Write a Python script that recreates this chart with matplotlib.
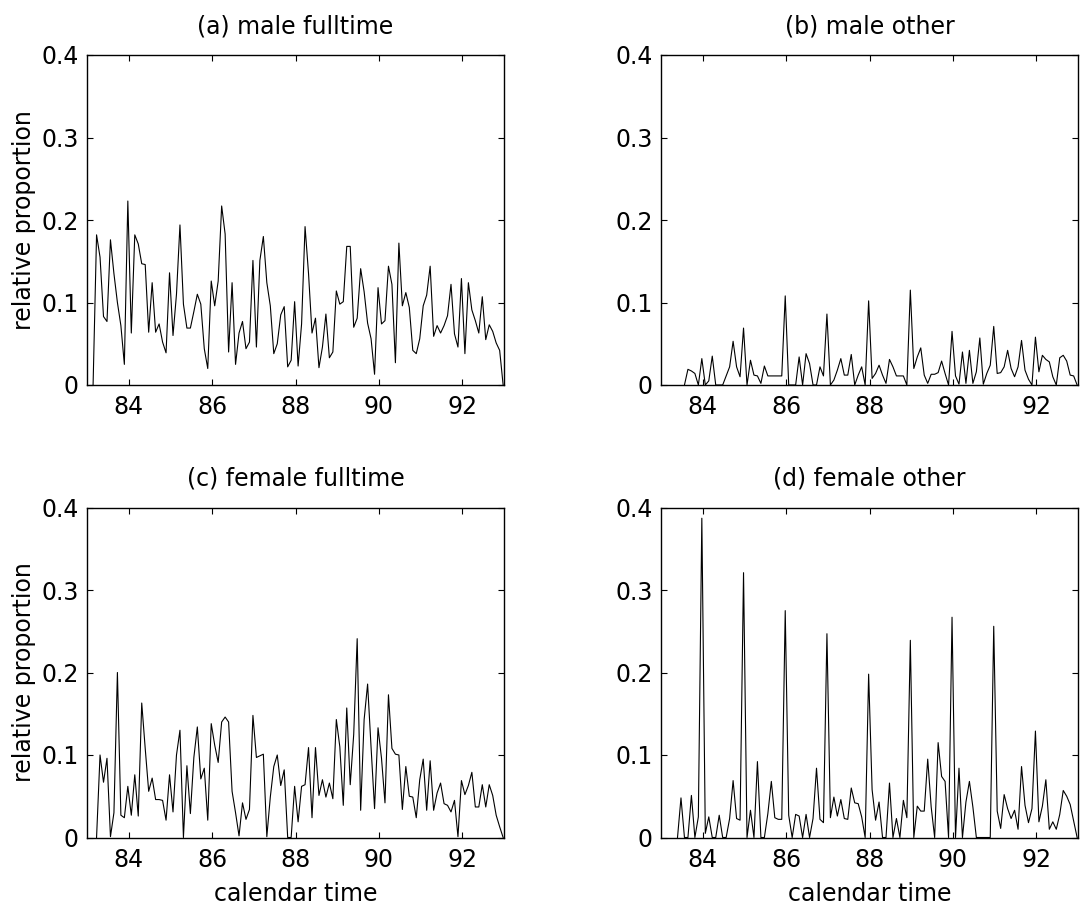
import numpy as np
import matplotlib
matplotlib.use("Agg")
import matplotlib.pyplot as plt

plt.rcParams['font.family'] = ['DejaVu Sans']

# monthly values; first month index of each series
male_full_start = 1
male_full = [0, 0.182, 0.155, 0.083, 0.077, 0.176, 0.135, 0.100, 0.072, 0.025,
             0.223, 0.063, 0.182, 0.171, 0.147, 0.146, 0.064, 0.124, 0.064, 0.074,
             0.052, 0.039, 0.136, 0.060, 0.110, 0.194, 0.098, 0.069, 0.069, 0.089,
             0.110, 0.098, 0.044, 0.020, 0.126, 0.096, 0.126, 0.217, 0.183, 0.040,
             0.124, 0.025, 0.063, 0.077, 0.044, 0.052, 0.151, 0.046, 0.151, 0.180,
             0.124, 0.096, 0.038, 0.050, 0.085, 0.095, 0.022, 0.030, 0.101, 0.023,
             0.074, 0.192, 0.135, 0.063, 0.081, 0.021, 0.046, 0.086, 0.033, 0.040,
             0.114, 0.098, 0.101, 0.168, 0.168, 0.070, 0.081, 0.141, 0.113, 0.075,
             0.056, 0.013, 0.118, 0.074, 0.078, 0.144, 0.122, 0.027, 0.172, 0.096,
             0.112, 0.094, 0.042, 0.038, 0.056, 0.096, 0.109, 0.144, 0.059, 0.072,
             0.063, 0.072, 0.084, 0.122, 0.062, 0.046, 0.129, 0.038, 0.124, 0.091,
             0.078, 0.063, 0.107, 0.055, 0.073, 0.065, 0.051, 0.042, 0]

male_other_start = 6
male_other = [0, 0.019, 0.017, 0.014, 0, 0.032, 0, 0.005, 0.035, 0,
              0, 0, 0.011, 0.022, 0.053, 0.022, 0.010, 0.069, 0, 0.030,
              0.012, 0.011, 0.002, 0.023, 0.011, 0.011, 0.011, 0.011, 0.011, 0.108,
              0, 0, 0, 0.034, 0, 0.038, 0.026, 0, 0, 0.022,
              0.011, 0.086, 0, 0.006, 0.018, 0.032, 0.012, 0.012, 0.037, 0,
              0.012, 0.022, 0, 0.102, 0.008, 0.014, 0.024, 0.012, 0.002, 0.031,
              0.022, 0.011, 0.011, 0.011, 0, 0.115, 0.020, 0.034, 0.045, 0.012,
              0.002, 0.013, 0.013, 0.015, 0.029, 0.014, 0, 0.065, 0.011, 0.001,
              0.040, 0.002, 0.042, 0.002, 0.016, 0.057, 0.001, 0.014, 0.024, 0.071,
              0.014, 0.015, 0.022, 0.042, 0.020, 0.010, 0.022, 0.054, 0.018, 0.007,
              0, 0.058, 0.016, 0.036, 0.031, 0.028, 0.010, 0, 0.033, 0.036,
              0.029, 0.012, 0.011, 0]

female_full_start = 2
female_full = [0, 0.100, 0.067, 0.096, 0.001, 0.030, 0.200, 0.027, 0.024, 0.062,
               0.027, 0.076, 0.026, 0.163, 0.108, 0.056, 0.072, 0.046, 0.046, 0.045,
               0.021, 0.076, 0.031, 0.100, 0.130, 0, 0.087, 0.029, 0.097, 0.134,
               0.071, 0.084, 0.021, 0.138, 0.112, 0.091, 0.140, 0.146, 0.140, 0.056,
               0.030, 0.002, 0.042, 0.022, 0.034, 0.148, 0.097, 0.099, 0.101, 0.001,
               0.049, 0.086, 0.100, 0.063, 0.082, 0, 0, 0.062, 0.019, 0.062,
               0.064, 0.109, 0.024, 0.109, 0.051, 0.070, 0.049, 0.066, 0.047, 0.143,
               0.110, 0.039, 0.157, 0.064, 0.125, 0.241, 0.033, 0.143, 0.186, 0.109,
               0.035, 0.133, 0.096, 0.042, 0.173, 0.108, 0.101, 0.100, 0.034, 0.086,
               0.050, 0.049, 0.024, 0.070, 0.095, 0.033, 0.093, 0.033, 0.054, 0.066,
               0.041, 0.039, 0.031, 0.045, 0.001, 0.069, 0.052, 0.063, 0.079, 0.037,
               0.037, 0.064, 0.037, 0.064, 0.051, 0.027, 0.013, 0]

female_other_start = 4
female_other = [0, 0.048, 0, 0, 0.051, 0, 0.025, 0.387, 0.005, 0.025,
                0, 0, 0.027, 0, 0, 0.023, 0.069, 0.023, 0.021, 0.321,
                0, 0.033, 0, 0.092, 0, 0, 0.029, 0.068, 0.024, 0.022,
                0.022, 0.275, 0.027, 0, 0.028, 0.026, 0, 0.028, 0, 0.023,
                0.084, 0.022, 0.018, 0.247, 0.024, 0.049, 0.026, 0.046, 0.023, 0.022,
                0.060, 0.042, 0.041, 0.025, 0, 0.198, 0.058, 0.021, 0.043, 0,
                0, 0.066, 0, 0.023, 0, 0.045, 0.024, 0.239, 0, 0.038,
                0.032, 0.032, 0.095, 0.037, 0, 0.115, 0.074, 0.068, 0, 0.267,
                0, 0.084, 0, 0.043, 0.068, 0.037, 0, 0, 0, 0,
                0, 0.256, 0.032, 0.011, 0.052, 0.035, 0.023, 0.033, 0.010, 0.086,
                0.039, 0.018, 0.035, 0.129, 0.019, 0.038, 0.070, 0.010, 0.019, 0.010,
                0.028, 0.057, 0.050, 0.040, 0.020, 0]

titles = ['(a) male fulltime', '(b) male other',
          '(c) female fulltime', '(d) female other']
xticks = [84, 86, 88, 90, 92]
yticks = [0, 0.1, 0.2, 0.3, 0.4]
ytick_labels = ['0', '0.1', '0.2', '0.3', '0.4']

series = [(male_full_start, male_full), (male_other_start, male_other),
          (female_full_start, female_full), (female_other_start, female_other)]

fig = plt.figure(figsize=(10.8, 9.08), dpi=100)
fs = 17
W, H = 1080.0, 908.0
# axes boxes in pixels: left, top, right, bottom
boxes = [(87, 55, 504, 385), (661, 55, 1078, 385),
         (87, 507.5, 504, 837.5), (661, 507.5, 1078, 837.5)]

for i, (box, (start, vals)) in enumerate(zip(boxes, series)):
    l, t, r, b = box
    ax = fig.add_axes([l / W, 1 - b / H, (r - l) / W, (b - t) / H])
    months = np.arange(start, start + len(vals))
    x = 83 + (months + 0.75) / 12.0
    ax.plot(x, vals, color='black', lw=0.8)
    ax.set_xlim(83, 93)
    ax.set_ylim(0, 0.4)
    ax.set_xticks(xticks)
    ax.set_yticks(yticks)
    ax.set_yticklabels(ytick_labels)
    ax.tick_params(direction='in', top=True, right=True, length=4, width=0.8,
                   labelsize=fs, pad=6)
    ax.tick_params(axis='x', pad=7.5)
    for sp in ax.spines.values():
        sp.set_linewidth(1.0)
    ax.set_title(titles[i], fontsize=fs, pad=15.5)
    if i % 2 == 0:
        ax.set_ylabel('relative proportion', fontsize=fs, labelpad=4)
    if i >= 2:
        ax.set_xlabel('calendar time', fontsize=fs, labelpad=7)

fig.savefig('out.png', dpi=100)
